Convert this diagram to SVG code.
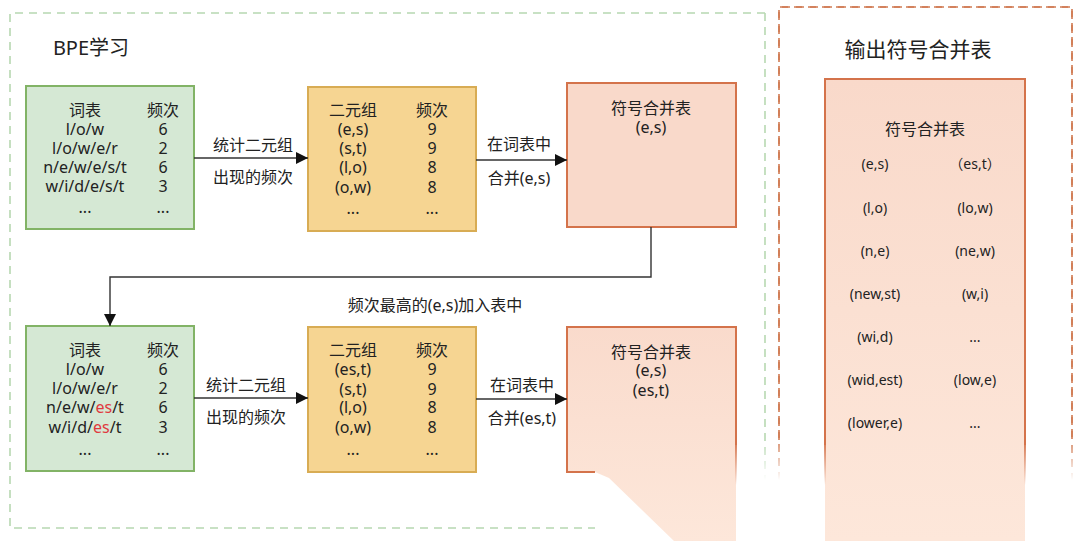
<svg xmlns="http://www.w3.org/2000/svg" width="1080" height="541" viewBox="0 0 1080 541">
<style>
text{font-family:"Noto Sans","Noto Sans CJK SC",sans-serif;fill:#222;text-anchor:middle;dominant-baseline:central}
.t16{font-size:16px}
.t14{font-size:14px}
.t21{font-size:21px}
.red{fill:#e0393e}
.green{fill:#d5e8d4;stroke:#82b366;stroke-width:2}
.yellow{fill:#f6d592;stroke:#d8ac54;stroke-width:2}
.pinkS{fill:none;stroke:#d4734b;stroke-width:2}
.conn{fill:none;stroke:#333;stroke-width:1.4}
</style>
<defs>
<marker id="arr" viewBox="0 0 10 10" refX="10" refY="5" markerWidth="12" markerHeight="12" markerUnits="userSpaceOnUse" orient="auto">
<path d="M0,0 L10,5 L0,10 z" fill="#111"/>
</marker>
<linearGradient id="pinkFill" gradientUnits="userSpaceOnUse" x1="0" y1="300" x2="0" y2="541">
<stop offset="0" stop-color="#f9d9ca"/><stop offset="1" stop-color="#fde7da"/>
</linearGradient>
<linearGradient id="pinkFill2" gradientUnits="userSpaceOnUse" x1="0" y1="79" x2="0" y2="541">
<stop offset="0" stop-color="#f9d9ca"/><stop offset="1" stop-color="#fde7da"/>
</linearGradient>
<linearGradient id="fadeOr" gradientUnits="userSpaceOnUse" x1="0" y1="440" x2="0" y2="485">
<stop offset="0" stop-color="#d4734b" stop-opacity="1"/><stop offset="1" stop-color="#d4734b" stop-opacity="0"/>
</linearGradient>
<linearGradient id="fadeOrD" gradientUnits="userSpaceOnUse" x1="0" y1="440" x2="0" y2="480">
<stop offset="0" stop-color="#d07a52" stop-opacity="1"/><stop offset="1" stop-color="#d07a52" stop-opacity="0"/>
</linearGradient>
<linearGradient id="fadeGr" gradientUnits="userSpaceOnUse" x1="0" y1="440" x2="0" y2="480">
<stop offset="0" stop-color="#b7d8b1" stop-opacity="1"/><stop offset="1" stop-color="#b7d8b1" stop-opacity="0"/>
</linearGradient>
</defs>
<rect width="1080" height="541" fill="#fff"/>

<g id="bpe-frame">
<path d="M765,13 H10 V528 H595" fill="none" stroke="#b7d8b1" stroke-width="1.6" stroke-dasharray="8,6"/>
<path d="M765,13 V480" fill="none" stroke="url(#fadeGr)" stroke-width="1.6" stroke-dasharray="8,6"/>
<text x="91" y="47" class="t21" style="font-size:20px">BPE学习</text>
</g>

<g id="output-frame">
<path d="M779,480 V7 H1072 V480" fill="none" stroke="url(#fadeOrD)" stroke-width="1.6" stroke-dasharray="8,6"/>
<path d="M779,440 V7 H1072 V440" fill="none" stroke="#d07a52" stroke-width="1.6" stroke-dasharray="8,6"/>
<text x="918" y="49" class="t21">输出符号合并表</text>
</g>

<g id="vocab1">
<rect x="26" y="86" width="168" height="143" class="green"/>
<text x="85" y="110" class="t16">词表</text><text x="163" y="110" class="t16">频次</text>
<text x="85" y="129" class="t16">l/o/w</text><text x="163" y="129" class="t16">6</text>
<text x="85" y="148" class="t16">l/o/w/e/r</text><text x="163" y="148" class="t16">2</text>
<text x="85" y="167" class="t16">n/e/w/e/s/t</text><text x="163" y="167" class="t16">6</text>
<text x="85" y="186" class="t16">w/i/d/e/s/t</text><text x="163" y="186" class="t16">3</text>
<text x="85" y="207" class="t16">...</text><text x="163" y="207" class="t16">...</text>
</g>

<g id="pairs1">
<rect x="308" y="87" width="168" height="144" class="yellow"/>
<text x="353" y="110" class="t16">二元组</text><text x="432" y="110" class="t16">频次</text>
<text x="353" y="129" class="t16">(e,s)</text><text x="432" y="129" class="t16">9</text>
<text x="353" y="148" class="t16">(s,t)</text><text x="432" y="148" class="t16">9</text>
<text x="353" y="167" class="t16">(l,o)</text><text x="432" y="167" class="t16">8</text>
<text x="353" y="187" class="t16">(o,w)</text><text x="432" y="187" class="t16">8</text>
<text x="353" y="208" class="t16">...</text><text x="432" y="208" class="t16">...</text>
</g>

<g id="merge1">
<rect x="567" y="83" width="169" height="144" fill="#f9d9ca" class="pinkS" style="fill:#f9d9ca"/>
<text x="651" y="108" class="t16">符号合并表</text>
<text x="651" y="127" class="t16">(e,s)</text>
</g>

<g id="vocab2">
<rect x="26" y="326" width="168" height="145" class="green"/>
<text x="85" y="350" class="t16">词表</text><text x="163" y="350" class="t16">频次</text>
<text x="85" y="369" class="t16">l/o/w</text><text x="163" y="369" class="t16">6</text>
<text x="85" y="388" class="t16">l/o/w/e/r</text><text x="163" y="388" class="t16">2</text>
<text x="85" y="407" class="t16">n/e/w/<tspan class="red">es</tspan>/t</text><text x="163" y="407" class="t16">6</text>
<text x="85" y="427" class="t16">w/i/d/<tspan class="red">es</tspan>/t</text><text x="163" y="427" class="t16">3</text>
<text x="85" y="449" class="t16">...</text><text x="163" y="449" class="t16">...</text>
</g>

<g id="pairs2">
<rect x="308" y="327" width="168" height="145" class="yellow"/>
<text x="353" y="350" class="t16">二元组</text><text x="432" y="350" class="t16">频次</text>
<text x="353" y="369" class="t16">(es,t)</text><text x="432" y="369" class="t16">9</text>
<text x="353" y="389" class="t16">(s,t)</text><text x="432" y="389" class="t16">9</text>
<text x="353" y="407" class="t16">(l,o)</text><text x="432" y="407" class="t16">8</text>
<text x="353" y="427" class="t16">(o,w)</text><text x="432" y="427" class="t16">8</text>
<text x="353" y="449" class="t16">...</text><text x="432" y="449" class="t16">...</text>
</g>

<g id="merge2">
<path d="M567,327 H736 V541 H674 L609,478 L595,472 H567 Z" fill="url(#pinkFill)"/>
<path d="M595,472 H567 V327 H736 V445" class="pinkS"/>
<path d="M736,440 V485" fill="none" stroke="url(#fadeOr)" stroke-width="2"/>
<text x="651" y="352" class="t16">符号合并表</text>
<text x="651" y="370" class="t16">(e,s)</text>
<text x="651" y="390" class="t16">(es,t)</text>
</g>

<g id="merge-table">
<rect x="825" y="79" width="200" height="462" fill="url(#pinkFill2)"/>
<path d="M825,445 V79 H1025 V445" class="pinkS"/>
<path d="M825,440 V485 M1025,440 V485" fill="none" stroke="url(#fadeOr)" stroke-width="2"/>
<text x="925" y="129" class="t16">符号合并表</text>
<text x="875" y="163" class="t14">(e,s)</text><text x="975" y="163" class="t14">（es,t）</text>
<text x="875" y="207" class="t14">(l,o)</text><text x="975" y="207" class="t14">(lo,w)</text>
<text x="875" y="250" class="t14">(n,e)</text><text x="975" y="250" class="t14">(ne,w)</text>
<text x="875" y="293" class="t14">(new,st)</text><text x="975" y="293" class="t14">(w,i)</text>
<text x="875" y="336" class="t14">(wi,d)</text><text x="975" y="336" class="t14">...</text>
<text x="875" y="379" class="t14">(wid,est)</text><text x="975" y="379" class="t14">(low,e)</text>
<text x="875" y="422" class="t14">(lower,e)</text><text x="975" y="422" class="t14">...</text>
</g>

<g id="connectors">
<path d="M194,158 H308" class="conn" marker-end="url(#arr)"/>
<path d="M476,160 H567" class="conn" marker-end="url(#arr)"/>
<path d="M651,227 V277 H110 V326" class="conn" marker-end="url(#arr)"/>
<path d="M194,398 H308" class="conn" marker-end="url(#arr)"/>
<path d="M476,399 H567" class="conn" marker-end="url(#arr)"/>
<text x="253" y="145" class="t16">统计二元组</text>
<text x="253" y="177" class="t16">出现的频次</text>
<text x="519" y="144" class="t16">在词表中</text>
<text x="519" y="178" class="t16">合并(e,s)</text>
<text x="435" y="305" class="t16">频次最高的(e,s)加入表中</text>
<text x="246" y="385" class="t16">统计二元组</text>
<text x="246" y="417" class="t16">出现的频次</text>
<text x="522" y="385" class="t16">在词表中</text>
<text x="522" y="418" class="t16">合并(es,t)</text>
</g>
</svg>
